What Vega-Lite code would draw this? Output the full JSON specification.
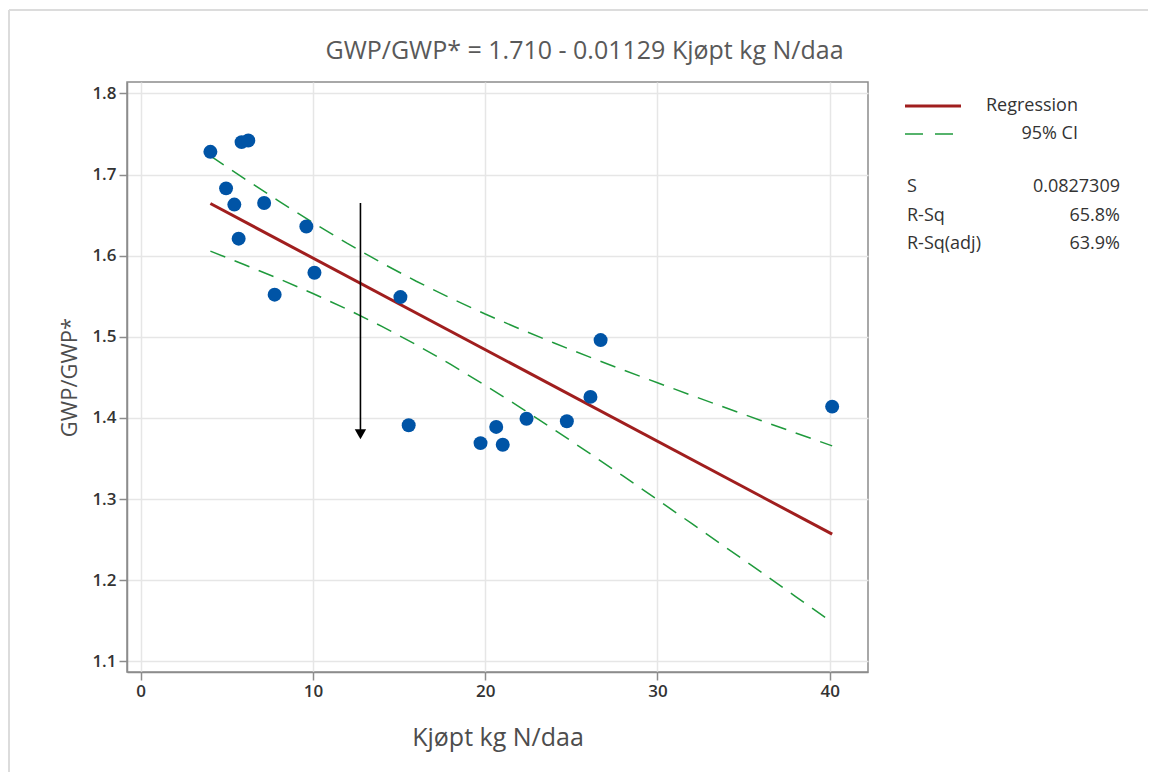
{
  "$schema": "https://vega.github.io/schema/vega-lite/v6.json",
  "background": "white",
  "padding": {"left": 8, "top": 8, "right": 0, "bottom": 0},
  "datasets": {
    "obs": [
      {"n": 4.05, "gwp": 1.728},
      {"n": 5.86, "gwp": 1.740},
      {"n": 6.25, "gwp": 1.742},
      {"n": 4.96, "gwp": 1.683},
      {"n": 5.44, "gwp": 1.663},
      {"n": 5.69, "gwp": 1.621},
      {"n": 7.17, "gwp": 1.665},
      {"n": 7.78, "gwp": 1.552},
      {"n": 9.62, "gwp": 1.636},
      {"n": 10.09, "gwp": 1.579},
      {"n": 15.08, "gwp": 1.549},
      {"n": 15.56, "gwp": 1.391},
      {"n": 19.73, "gwp": 1.369},
      {"n": 20.64, "gwp": 1.389},
      {"n": 21.02, "gwp": 1.367},
      {"n": 22.40, "gwp": 1.399},
      {"n": 24.74, "gwp": 1.396},
      {"n": 26.11, "gwp": 1.426},
      {"n": 26.70, "gwp": 1.496},
      {"n": 40.14, "gwp": 1.414}
    ],
    "fit": [
      {"n": 4.05, "gwp": 1.6643},
      {"n": 40.14, "gwp": 1.2568}
    ],
    "ci": [
      {"n": 4.05, "gwp": 1.7229, "band": "upper"},
      {"n": 6, "gwp": 1.6953, "band": "upper"},
      {"n": 8, "gwp": 1.6676, "band": "upper"},
      {"n": 10, "gwp": 1.6408, "band": "upper"},
      {"n": 12, "gwp": 1.6152, "band": "upper"},
      {"n": 14, "gwp": 1.5910, "band": "upper"},
      {"n": 16, "gwp": 1.5685, "band": "upper"},
      {"n": 18, "gwp": 1.5476, "band": "upper"},
      {"n": 20, "gwp": 1.5281, "band": "upper"},
      {"n": 22, "gwp": 1.5098, "band": "upper"},
      {"n": 24, "gwp": 1.4924, "band": "upper"},
      {"n": 26, "gwp": 1.4756, "band": "upper"},
      {"n": 28, "gwp": 1.4593, "band": "upper"},
      {"n": 30, "gwp": 1.4434, "band": "upper"},
      {"n": 32, "gwp": 1.4277, "band": "upper"},
      {"n": 34, "gwp": 1.4122, "band": "upper"},
      {"n": 36, "gwp": 1.3969, "band": "upper"},
      {"n": 38, "gwp": 1.3817, "band": "upper"},
      {"n": 40.14, "gwp": 1.3656, "band": "upper"},
      {"n": 4.05, "gwp": 1.6056, "band": "lower"},
      {"n": 6, "gwp": 1.5892, "band": "lower"},
      {"n": 8, "gwp": 1.5718, "band": "lower"},
      {"n": 10, "gwp": 1.5534, "band": "lower"},
      {"n": 12, "gwp": 1.5339, "band": "lower"},
      {"n": 14, "gwp": 1.5129, "band": "lower"},
      {"n": 16, "gwp": 1.4903, "band": "lower"},
      {"n": 18, "gwp": 1.4660, "band": "lower"},
      {"n": 20, "gwp": 1.4403, "band": "lower"},
      {"n": 22, "gwp": 1.4135, "band": "lower"},
      {"n": 24, "gwp": 1.3857, "band": "lower"},
      {"n": 26, "gwp": 1.3573, "band": "lower"},
      {"n": 28, "gwp": 1.3285, "band": "lower"},
      {"n": 30, "gwp": 1.2992, "band": "lower"},
      {"n": 32, "gwp": 1.2697, "band": "lower"},
      {"n": 34, "gwp": 1.2400, "band": "lower"},
      {"n": 36, "gwp": 1.2102, "band": "lower"},
      {"n": 38, "gwp": 1.1802, "band": "lower"},
      {"n": 40.14, "gwp": 1.1480, "band": "lower"}
    ],
    "arrow": [
      {"n": 12.76, "top": 1.665, "tip": 1.383, "head": 1.380}
    ],
    "legendRows": [
      {"row": 0, "x1": 2, "x2": 58, "label": "Regression", "kind": "Regression"},
      {"row": 1, "x1": 2, "x2": 58, "label": "95% CI", "kind": "95% CI"}
    ],
    "stats": [
      {"row": 2.89, "name": "S", "value": "0.0827309"},
      {"row": 3.93, "name": "R-Sq", "value": "65.8%"},
      {"row": 4.93, "name": "R-Sq(adj)", "value": "63.9%"}
    ],
    "frameEdges": [
      {"x": -894, "x2": -894, "row": -3.4286, "row2": 23.786},
      {"x": -894, "x2": 245, "row": -3.4286, "row2": -3.4286}
    ]
  },
  "bounds": "flush",
  "spacing": 35,
  "hconcat": [
    {
      "width": 741,
      "height": 590,
      "title": {
        "text": "GWP/GWP* = 1.710 - 0.01129 Kjøpt kg N/daa",
        "font": "Open Sans",
        "fontSize": 25,
        "fontWeight": "normal",
        "color": "#595959",
        "anchor": "middle",
        "frame": "group",
        "dx": 87,
        "offset": 18
      },
      "view": {"stroke": "#8c8c8c", "strokeWidth": 1.5},
      "encoding": {
        "x": {
          "field": "n",
          "type": "quantitative",
          "scale": {"domain": [-0.79, 42.22], "nice": false, "zero": false},
          "axis": {
            "values": [0, 10, 20, 30, 40],
            "title": "Kjøpt kg N/daa",
            "titleFontSize": 25,
            "titlePadding": 26
          }
        },
        "y": {
          "field": "gwp",
          "type": "quantitative",
          "scale": {"domain": [1.0869, 1.8141], "nice": false, "zero": false},
          "axis": {
            "values": [1.1, 1.2, 1.3, 1.4, 1.5, 1.6, 1.7, 1.8],
            "format": ".1f",
            "title": "GWP/GWP*",
            "titleFontSize": 22,
            "titlePadding": 10
          }
        }
      },
      "layer": [
        {
          "data": {"name": "ci"},
          "mark": {"type": "line", "color": "#1f9a3c", "strokeWidth": 1.5, "strokeDash": [16, 10]},
          "encoding": {"detail": {"field": "band"}}
        },
        {
          "data": {"name": "fit"},
          "mark": {"type": "line", "color": "#a01e1e", "strokeWidth": 3}
        },
        {
          "data": {"name": "obs"},
          "mark": {"type": "point", "shape": "circle", "filled": true, "size": 195, "color": "#0054a6", "opacity": 1}
        },
        {
          "data": {"name": "arrow"},
          "mark": {"type": "rule", "color": "black", "strokeWidth": 1.6},
          "encoding": {"y": {"field": "top", "type": "quantitative"}, "y2": {"field": "tip"}}
        },
        {
          "data": {"name": "arrow"},
          "mark": {"type": "point", "shape": "triangle-down", "filled": true, "size": 130, "color": "black", "opacity": 1},
          "encoding": {"y": {"field": "head", "type": "quantitative"}}
        }
      ]
    },
    {
      "width": 220,
      "height": 590,
      "view": {"stroke": null},
      "encoding": {
        "y": {
          "field": "row",
          "type": "quantitative",
          "scale": {"domain": [-0.857, 20.214], "reverse": true, "nice": false, "zero": false},
          "axis": null
        }
      },
      "layer": [
        {
          "data": {"name": "frameEdges"},
          "mark": {"type": "rule", "color": "#dcdcdc", "strokeWidth": 2},
          "encoding": {
            "x": {"field": "x", "type": "quantitative", "scale": {"domain": [0, 220], "nice": false, "zero": false}, "axis": null},
            "x2": {"field": "x2"},
            "y2": {"field": "row2"}
          }
        },
        {
          "data": {"name": "legendRows"},
          "mark": {"type": "rule"},
          "encoding": {
            "x": {"field": "x1", "type": "quantitative", "scale": {"domain": [0, 220], "nice": false, "zero": false}, "axis": null},
            "x2": {"field": "x2"},
            "color": {"field": "kind", "type": "nominal", "scale": {"domain": ["Regression", "95% CI"], "range": ["#a01e1e", "#1f9a3c"]}, "legend": null},
            "strokeWidth": {"field": "kind", "type": "nominal", "scale": {"domain": ["Regression", "95% CI"], "range": [3, 1.5]}, "legend": null},
            "strokeDash": {"field": "kind", "type": "nominal", "scale": {"domain": ["Regression", "95% CI"], "range": [[1, 0], [18, 12]]}, "legend": null}
          }
        },
        {
          "data": {"name": "legendRows"},
          "mark": {"type": "text", "align": "right", "baseline": "middle", "fontSize": 18, "color": "#333333"},
          "encoding": {
            "x": {"datum": 175, "type": "quantitative"},
            "text": {"field": "label"}
          }
        },
        {
          "data": {"name": "stats"},
          "mark": {"type": "text", "align": "left", "baseline": "middle", "fontSize": 18, "color": "#333333"},
          "encoding": {
            "x": {"datum": 4, "type": "quantitative"},
            "text": {"field": "name"}
          }
        },
        {
          "data": {"name": "stats"},
          "mark": {"type": "text", "align": "right", "baseline": "middle", "fontSize": 18, "color": "#333333"},
          "encoding": {
            "x": {"datum": 217, "type": "quantitative"},
            "text": {"field": "value"}
          }
        }
      ]
    }
  ],
  "config": {
    "font": "Open Sans",
    "axis": {
      "grid": true,
      "gridColor": "#e6e6e6",
      "gridWidth": 1.5,
      "domainColor": "#8c8c8c",
      "domainWidth": 1.5,
      "tickColor": "#8c8c8c",
      "tickWidth": 1.5,
      "tickSize": 8,
      "labelFont": "Open Sans",
      "labelFontSize": 17,
      "labelFontWeight": 600,
      "labelColor": "#333333",
      "labelPadding": 3,
      "titleFont": "Open Sans",
      "titleFontWeight": "normal",
      "titleColor": "#4d4d4d"
    }
  }
}
